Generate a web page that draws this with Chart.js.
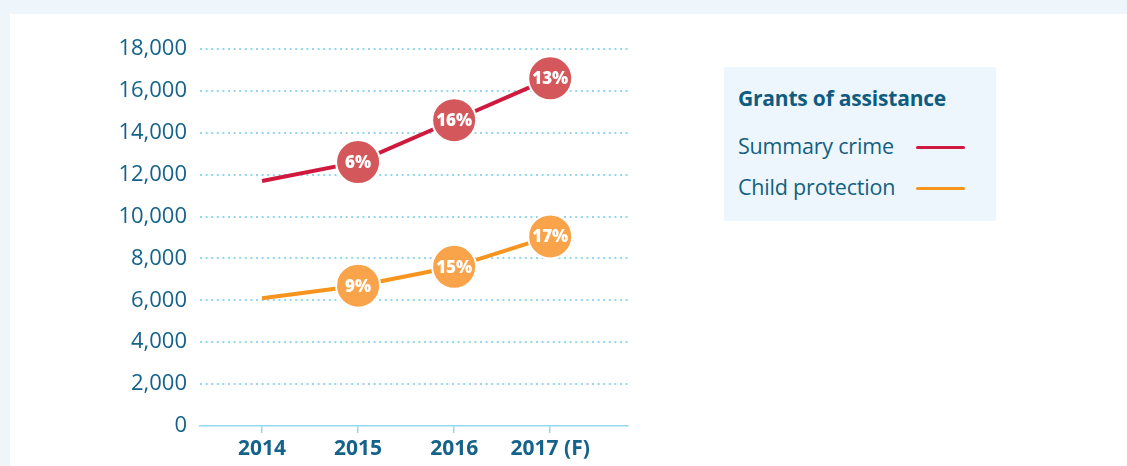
<!DOCTYPE html>
<html>
<head>
<meta charset="utf-8">
<script src="https://cdn.jsdelivr.net/npm/chart.js@4"></script>
<style>
  html, body { margin: 0; padding: 0; }
  body { width: 1127px; height: 466px; background: #eef6fb; position: relative; overflow: hidden; }
  #panel { position: absolute; left: 10px; top: 14px; width: 1117px; height: 452px; background: #fff; }
  #wrap { position: absolute; left: 0; top: 0; width: 700px; height: 466px; }
  #legend { position: absolute; left: 724px; top: 67px; width: 272px; height: 154px; background: #edf6fc; font-family: 'Open Sans', sans-serif; color: #135f82; }
  #legend h3 { margin: 0; position: absolute; left: 14px; top: 17px; font-size: 21px; font-weight: 700; color: #0f5c80; letter-spacing: -0.2px; white-space: nowrap; }
  .item { position: absolute; left: 14px; font-size: 21.5px; height: 28px; line-height: 28px; white-space: nowrap; letter-spacing: -0.2px; }
  .swatch { position: absolute; left: 192px; width: 49px; height: 3px; border-radius: 2px; }
</style>
</head>
<body>
<div id="panel"></div>
<div id="wrap"><canvas id="chart"></canvas></div>
<div id="legend">
  <h3>Grants of assistance</h3>
  <div class="item" style="top:65px">Summary crime</div>
  <div class="swatch" style="top:79px;background:#d0193e"></div>
  <div class="item" style="top:106px">Child protection</div>
  <div class="swatch" style="top:120px;background:#f7941d"></div>
</div>
<script>
const years = ['2014', '2015', '2016', '2017 (F)'];
const summaryCrime = [11700, 12600, 14600, 16600];
const childProtection = [6100, 6700, 7600, 9050];
const summaryGrowth = ['', '6%', '16%', '13%'];
const childGrowth = ['', '9%', '15%', '17%'];

const axisBlue = '#93d8f0';
const labelBlue = '#15628a';

const toPoints = vals => vals.map((v, i) => ({ x: i, y: v }));

// white percentage text inside each bubble
const bubbleLabels = {
  id: 'bubbleLabels',
  afterDatasetsDraw(chart) {
    const ctx = chart.ctx;
    chart.data.datasets.forEach((ds, di) => {
      const meta = chart.getDatasetMeta(di);
      meta.data.forEach((pt, i) => {
        const txt = ds.growth[i];
        if (!txt) return;
        ctx.save();
        ctx.fillStyle = '#fff';
        ctx.font = '800 17px "Open Sans", sans-serif';
        ctx.textAlign = 'center';
        ctx.textBaseline = 'middle';
        ctx.fillText(txt, pt.x, pt.y + 1);
        ctx.restore();
      });
    });
  }
};

new Chart(document.getElementById('chart'), {
  type: 'line',
  data: {
    datasets: [
      {
        label: 'Summary crime',
        data: toPoints(summaryCrime),
        growth: summaryGrowth,
        borderColor: '#d0193e',
        borderWidth: 4,
        pointRadius: [0, 22, 22, 22],
        pointBackgroundColor: '#d4575b',
        pointBorderColor: '#fff',
        pointBorderWidth: 2,
        tension: 0
      },
      {
        label: 'Child protection',
        data: toPoints(childProtection),
        growth: childGrowth,
        borderColor: '#f7941d',
        borderWidth: 4,
        pointRadius: [0, 22, 22, 22],
        pointBackgroundColor: '#f9a34b',
        pointBorderColor: '#fff',
        pointBorderWidth: 2,
        tension: 0
      }
    ]
  },
  options: {
    responsive: true,
    maintainAspectRatio: false,
    animation: false,
    layout: { padding: { top: 49, right: 72, left: 0, bottom: 0 } },
    plugins: { legend: { display: false }, tooltip: { enabled: false } },
    scales: {
      x: {
        type: 'linear',
        min: -0.646,
        max: 3.81,
        border: { color: axisBlue, width: 1.5 },
        grid: { drawOnChartArea: false, drawTicks: true, tickLength: 7, color: axisBlue, lineWidth: 1.5 },
        ticks: {
          stepSize: 1,
          includeBounds: false,
          padding: 3,
          color: labelBlue,
          font: { family: '"Open Sans", sans-serif', size: 21, weight: '700' },
          callback: v => years[v] ?? ''
        },
        afterFit: s => { s.height = 40; }
      },
      y: {
        min: 0,
        max: 18000,
        border: { display: false, dash: [2, 3.6] },
        grid: {
          drawTicks: false,
          lineWidth: 2,
          color: c => c.tick.value === 0 ? 'rgba(0,0,0,0)' : axisBlue
        },
        ticks: {
          stepSize: 2000,
          padding: 13,
          color: labelBlue,
          font: { family: '"Open Sans", sans-serif', size: 22 },
          callback: v => v.toLocaleString('en-US')
        },
        afterFit: s => { s.width = 200; }
      }
    }
  },
  plugins: [bubbleLabels]
});
</script>
</body>
</html>
